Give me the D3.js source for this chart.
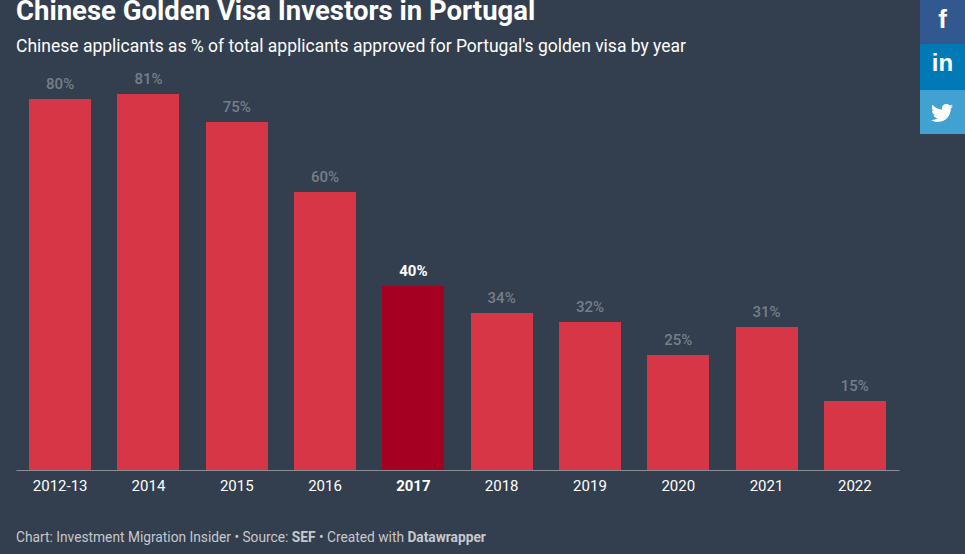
<!DOCTYPE html>
<html>
<head>
<meta charset="utf-8">
<title>Chinese Golden Visa Investors in Portugal</title>
<script src="https://d3js.org/d3.v7.min.js"></script>
<style>
    html, body { margin: 0; padding: 0; background: #333e4e; overflow: hidden; }
    svg { display: block; font-family: Roboto, sans-serif; }
</style>
</head>
<body>
<svg id="svg" width="965" height="554"></svg>
<script>
const years = ['2012-13', '2014', '2015', '2016', '2017', '2018', '2019', '2020', '2021', '2022']
// the labels round them
const shares = [80, 81, 75, 60, 39.7, 33.9, 31.9, 24.8, 30.8, 14.9]
const highlightYear = '2017'

const shareButtons = ['facebook', 'linkedin', 'twitter']
const shareColors = ['#31588f', '#007ab6', '#41a1d0']

const svg = d3.select('#svg')

const x = d3.scaleBand()
    .domain(years)
    .range([16, 899])
    .paddingInner(0.298)
    .paddingOuter(0.149)

const y = d3.scaleLinear()
    .domain([0, 100])
    .range([470, 6])

const pct = d3.format('.0f')

// title and subtitle
svg.append('text')
    .attr('x', 16).attr('y', 20)
    .attr('fill', '#fff')
    .style('font-size', '27.5px')
    .style('font-weight', 700)
    .text('Chinese Golden Visa Investors in Portugal')

svg.append('text')
    .attr('x', 16).attr('y', 52)
    .attr('fill', '#fff')
    .style('font-size', '17.5px')
    .text("Chinese applicants as % of total applicants approved for Portugal's golden visa by year")

// bars
svg.selectAll('rect.bar')
    .data(years)
    .enter()
    .append('rect')
    .attr('class', 'bar')
    .attr('x', (d) => Math.round(x(d)))
    .attr('width', (d) => Math.round(x(d) + x.bandwidth()) - Math.round(x(d)))
    .attr('y', (d, i) => Math.round(y(shares[i])))
    .attr('height', (d, i) => y(0) - Math.round(y(shares[i])))
    .attr('fill', (d) => d === highlightYear ? '#a50021' : '#d73647')

// value labels
svg.selectAll('text.value')
    .data(years)
    .enter()
    .append('text')
    .attr('class', 'value')
    .attr('x', (d) => x(d) + x.bandwidth() / 2)
    .attr('y', (d, i) => Math.round(y(shares[i])) - 10)
    .attr('text-anchor', 'middle')
    .attr('fill', (d) => d === highlightYear ? '#fff' : '#767e89')
    .style('font-size', '15px')
    .style('font-weight', (d) => d === highlightYear ? 700 : 500)
    .text((d, i) => pct(shares[i]) + '%')

// x axis
const axis = svg.append('g')
    .attr('transform', 'translate(0,' + y(0) + ')')
    .call(d3.axisBottom(x).tickSize(0).tickPadding(10))

axis.select('.domain').attr('stroke', '#8a8f96').attr('stroke-width', 1)
axis.selectAll('text')
    .attr('fill', '#fff')
    .style('font-family', 'Roboto, sans-serif')
    .style('font-size', '15px')
    .style('font-weight', (d) => d === highlightYear ? 700 : 400)

// footer
const footer = svg.append('text')
    .attr('x', 16).attr('y', 542)
    .attr('fill', '#c6c9cd')
    .style('font-size', '13.75px')
footer.append('tspan').text('Chart: Investment Migration Insider • Source: ')
footer.append('tspan').style('font-weight', 700).text('SEF')
footer.append('tspan').text(' • Created with ')
footer.append('tspan').style('font-weight', 700).text('Datawrapper')

// share buttons
const share = d3.scaleBand()
    .domain(shareButtons)
    .range([-1, 135])

const shareTop = (d) => Math.round(share(d))
const shareBottom = (d) => Math.min(Math.round(share(d) + share.bandwidth()), 134)

const buttons = svg.selectAll('g.share')
    .data(shareButtons)
    .enter()
    .append('g')
    .attr('class', 'share')
    .attr('transform', (d) => 'translate(920,' + shareTop(d) + ')')

buttons.append('rect')
    .attr('width', 45)
    .attr('height', (d) => shareBottom(d) - shareTop(d))
    .attr('fill', (d, i) => shareColors[i])

buttons.filter((d) => d === 'facebook').append('text')
    .attr('x', 22.5).attr('y', 29)
    .attr('text-anchor', 'middle')
    .attr('fill', '#fff')
    .style('font-family', "'Liberation Sans', sans-serif")
    .style('font-size', '26px')
    .style('font-weight', 700)
    .text('f')

buttons.filter((d) => d === 'linkedin').append('text')
    .attr('x', 22.5).attr('y', 27)
    .attr('text-anchor', 'middle')
    .attr('fill', '#fff')
    .style('font-family', "'Liberation Sans', sans-serif")
    .style('font-size', '24px')
    .style('font-weight', 700)
    .text('in')

// twitter bird, 24 unit icon
buttons.filter((d) => d === 'twitter').append('path')
    .attr('transform', 'translate(11,12) scale(0.92)')
    .attr('fill', '#fff')
    .attr('d', 'M24 4.6c-.9.4-1.8.7-2.8.8 1-.6 1.8-1.6 2.2-2.7-1 .6-2 1-3.1 1.2-.9-1-2.2-1.6-3.6-1.6-2.7 0-4.9 2.2-4.9 4.9 0 .4 0 .8.1 1.1C7.700 8.100 4.100 6.100 1.700 3.100c-.4.7-.7 1.600-.7 2.500 0 1.700.9 3.200 2.200 4.100-.8 0-1.600-.2-2.200-.6v.1c0 2.400 1.700 4.400 3.900 4.800-.4.1-.8.2-1.300.2-.3 0-.6 0-.9-.1.6 2 2.400 3.400 4.600 3.400-1.700 1.300-3.800 2.100-6.100 2.100-.4 0-.8 0-1.200-.1 2.200 1.400 4.800 2.200 7.500 2.200 9.100 0 14-7.500 14-14v-.6c1-.7 1.800-1.600 2.500-2.500z')
</script>
</body>
</html>
